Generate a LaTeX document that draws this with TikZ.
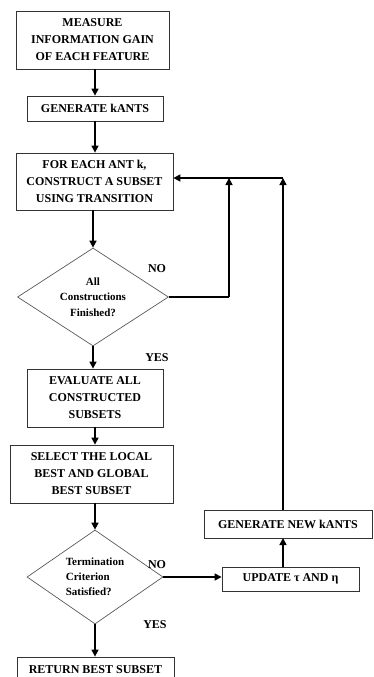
\documentclass[tikz,border=0pt]{standalone}
\usepackage{fontspec}
\setmainfont{Liberation Serif}
\usetikzlibrary{shapes.geometric,arrows.meta}
\begin{document}
\begin{tikzpicture}[x=1pt,y=-1pt,
  box/.style={draw=black!80,line width=0.8pt,rectangle,inner sep=0pt,align=center,
    font=\fontsize{12}{17}\selectfont\bfseries},
  dia/.style={draw=black!65,line width=0.7pt,diamond,inner sep=0pt},
  lbl/.style={font=\fontsize{12}{14}\selectfont\bfseries,inner sep=0pt},
  arr/.style={line width=1.5pt,-{Triangle[length=7pt,width=7pt]}},
  ln/.style={line width=1.5pt}]
\useasboundingbox (0,0) rectangle (373,677);
\clip (0,0) rectangle (373,677);
\node[box,minimum width=153,minimum height=58] (b1) at (92.5,40) {MEASURE\\INFORMATION GAIN\\OF EACH FEATURE};
\node[box,minimum width=136,minimum height=25] (b2) at (95,108.5) {GENERATE kANTS};
\node[box,minimum width=157,minimum height=57] (b3) at (94.5,181.5) {FOR EACH ANT k,\\CONSTRUCT A SUBSET\\USING TRANSITION};
\node[dia,minimum width=151,minimum height=98,aspect=1.54] (d1) at (93,297) {};
\node[font=\fontsize{11}{15.5}\selectfont\bfseries,align=center,inner sep=0pt] (t1) at (d1.center) {All\\Constructions\\Finished?};
\node[box,minimum width=136,minimum height=58] (b4) at (95,398) {EVALUATE ALL\\CONSTRUCTED\\SUBSETS};
\node[box,minimum width=163,minimum height=58] (b5) at (91.5,474) {SELECT THE LOCAL\\BEST AND GLOBAL\\BEST SUBSET};
\node[dia,minimum width=136,minimum height=94,aspect=1.45] (d2) at (95,577) {};
\node[font=\fontsize{11}{15}\selectfont\bfseries,align=left,inner sep=0pt] (t2) at (d2.center) {Termination\\Criterion\\Satisfied?};
\node[box,minimum width=157,minimum height=26] (b6) at (95.5,670) {RETURN BEST SUBSET};
\node[box,minimum width=168,minimum height=28] (g) at (288,524) {GENERATE NEW kANTS};
\node[box,minimum width=137,minimum height=24] (u) at (290.5,579) {UPDATE τ AND η};
\node[lbl] (no1) at (157,269) {NO};
\node[lbl] (yes1) at (157,358) {YES};
\node[lbl] (no2) at (157,565) {NO};
\node[lbl] (yes2) at (155,625) {YES};
\coordinate (j1) at (229,178);
\coordinate (j2) at (283,178);
\coordinate (gn) at (283,510);
\coordinate (gs) at (283,538);
\draw[arr] (b1.south -| b2.north) -- (b2.north);
\draw[arr] (b2.south) -- (b2.south |- b3.north);
\draw[arr] (b3.south -| d1.north) -- (d1.north);
\draw[arr] (d1.south) -- (d1.south |- b4.north);
\draw[arr] (b4.south) -- (b4.south |- b5.north);
\draw[arr] (b5.south -| d2.north) -- (d2.north);
\draw[arr] (d2.south) -- (d2.south |- b6.north);
\draw[ln] (d1.east) -- (d1.east -| j1);
\draw[arr] (d1.east -| j1) -- (j1);
\draw[arr] (gn) -- (j2);
\draw[arr] (j2) -- (b3.east |- j2);
\draw[arr] (d2.east) -- (d2.east -| u.west);
\draw[arr] (u.north -| gs) -- (gs);
\end{tikzpicture}
\end{document}
